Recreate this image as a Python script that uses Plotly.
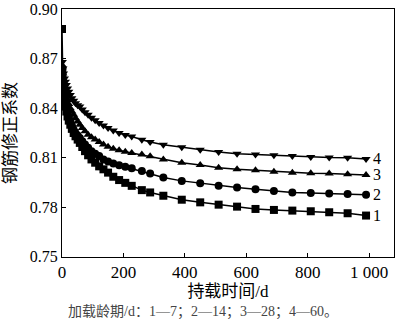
import plotly.graph_objects as go

# time (days)
t_days = [0, 1, 3, 5, 8, 11, 14, 18, 22, 27, 32, 38, 44, 51, 58, 66, 75, 85, 96, 108, 121, 135,
          150, 167, 186, 206, 227, 260, 287, 330, 390, 450, 510, 570, 630, 690, 750, 810,
          870, 930, 990]

# curve 1 (loading age 7 d) - squares
s1 = [0.888, 0.862, 0.855, 0.850, 0.845, 0.841, 0.838, 0.835, 0.8325, 0.830, 0.8275, 0.825,
      0.823, 0.821, 0.819, 0.8165, 0.814, 0.8115, 0.809, 0.807, 0.8048, 0.803, 0.801, 0.7985,
      0.7965, 0.7948, 0.793, 0.7904, 0.789, 0.787, 0.7846, 0.783, 0.7816, 0.7804, 0.779,
      0.7784, 0.778, 0.7776, 0.777, 0.7764, 0.775]
# curve 2 (14 d) - circles
s2 = [None, 0.864, 0.858, 0.853, 0.848, 0.844, 0.841, 0.838, 0.835, 0.832, 0.8295, 0.827,
      0.825, 0.8235, 0.822, 0.8200, 0.818, 0.816, 0.814, 0.8125, 0.811, 0.809, 0.8077, 0.8065,
      0.8055, 0.8045, 0.8036, 0.802, 0.8004, 0.798, 0.796, 0.7946, 0.793, 0.792, 0.791,
      0.7898, 0.789, 0.7886, 0.7884, 0.788, 0.7876]
# curve 3 (28 d) - triangles up
s3 = [None, 0.866, 0.861, 0.857, 0.853, 0.850, 0.8475, 0.845, 0.8425, 0.840, 0.838, 0.836,
      0.834, 0.832, 0.830, 0.828, 0.826, 0.824, 0.8225, 0.821, 0.8195, 0.818, 0.8167, 0.8155,
      0.8145, 0.8137, 0.8129, 0.812, 0.8109, 0.809, 0.807, 0.8056, 0.804, 0.803, 0.8024,
      0.8016, 0.801, 0.8006, 0.8004, 0.800, 0.7996]
# curve 4 (60 d) - triangles down
s4 = [None, 0.868, 0.864, 0.861, 0.858, 0.856, 0.854, 0.852, 0.850, 0.848, 0.846, 0.8445,
      0.843, 0.8418, 0.841, 0.8393, 0.8375, 0.836, 0.8343, 0.8327, 0.831, 0.8295, 0.828, 0.8265,
      0.825, 0.8238, 0.8229, 0.8209, 0.8195, 0.8179, 0.8163, 0.8149, 0.8135, 0.8125, 0.812,
      0.8115, 0.811, 0.8105, 0.8102, 0.810, 0.8093]

series_names = ["1", "2", "3", "4"]
series_values = [s1, s2, s3, s4]
series_symbols = ["square", "circle", "triangle-up", "triangle-down"]

x_tickvals = [0, 200, 400, 600, 800, 1000]
x_ticktext = ["0", "200", "400", "600", "800", "1 000"]
y_tickvals = [0.75, 0.78, 0.81, 0.84, 0.87, 0.90]
y_ticktext = ["0.75", "0.78", "0.81", "0.84", "0.87", "0.90"]

SERIF = "Liberation Serif, Noto Sans CJK SC, serif"

fig = go.Figure()
for name, vals, sym in zip(series_names, series_values, series_symbols):
    fig.add_trace(go.Scatter(
        x=t_days, y=vals, mode="lines+markers", name=name,
        line=dict(color="black", width=1.5),
        marker=dict(symbol=sym, size=8, color="black"),
        connectgaps=False, showlegend=False,
    ))
    # end label
    fig.add_annotation(x=1005, y=vals[-1], text=name, showarrow=False,
                       xanchor="left", yanchor="middle",
                       font=dict(family=SERIF, size=16, color="black"))

fig.add_annotation(xref="paper", yref="paper", x=(203 - 62) / 332, y=-0.22,
                   text="加载龄期/d：1—7；2—14；3—28；4—60。", showarrow=False,
                   xanchor="center", yanchor="middle",
                   font=dict(family=SERIF, size=14, color="#444"))

fig.update_layout(
    width=400, height=322,
    margin=dict(l=62, r=6, t=9, b=65),
    paper_bgcolor="white", plot_bgcolor="white",
    font=dict(family=SERIF, size=16, color="black"),
)
fig.update_xaxes(
    range=[0, 1081], tickvals=x_tickvals, ticktext=x_ticktext,
    ticks="inside", ticklen=4, tickcolor="black",
    showline=True, linecolor="black", linewidth=1, mirror=True,
    showgrid=False, zeroline=False, automargin=False, ticklabeloverflow="allow",
    tickfont=dict(family=SERIF, size=17),
    title=dict(text="持载时间/d", font=dict(family=SERIF, size=17), standoff=2),
)
fig.update_yaxes(
    range=[0.7499, 0.9001], tickvals=y_tickvals, ticktext=y_ticktext,
    ticks="inside", ticklen=4, tickcolor="black",
    showline=True, linecolor="black", linewidth=1, mirror=True,
    showgrid=False, zeroline=False, automargin=False, ticklabeloverflow="allow",
    tickfont=dict(family=SERIF, size=16),
    title=dict(text="钢筋修正系数", font=dict(family=SERIF, size=17), standoff=8),
)

fig.write_html("out.html", post_script="document.body.style.margin='0';",
               config={"displayModeBar": False})
